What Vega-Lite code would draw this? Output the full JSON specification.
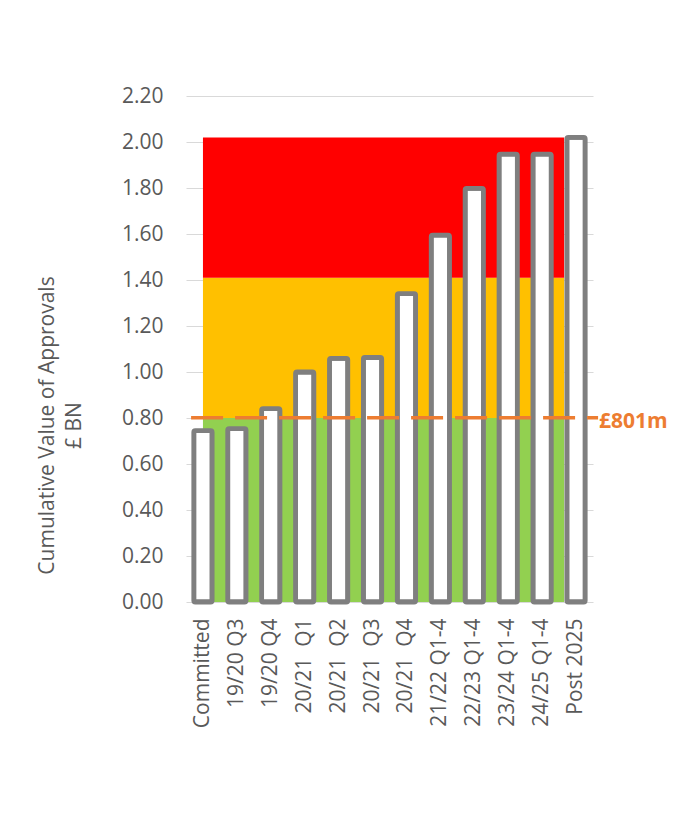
{
  "$schema": "https://vega.github.io/schema/vega-lite/v6.json",
  "width": 407,
  "height": 506,
  "autosize": {"type": "none"},
  "padding": {"left": 186, "top": 96, "right": 84, "bottom": 212},
  "background": "white",
  "config": {"view": {"stroke": null}, "font": "Open Sans"},
  "datasets": {
    "bars": [
      {"period": "Committed", "value": 0.745},
      {"period": "19/20 Q3", "value": 0.754},
      {"period": "19/20 Q4", "value": 0.841},
      {"period": "20/21\u00a0 Q1", "value": 1.0},
      {"period": "20/21\u00a0 Q2", "value": 1.059},
      {"period": "20/21\u00a0 Q3", "value": 1.063},
      {"period": "20/21\u00a0 Q4", "value": 1.341},
      {"period": "21/22 Q1-4", "value": 1.595},
      {"period": "22/23 Q1-4", "value": 1.798},
      {"period": "23/24 Q1-4", "value": 1.947},
      {"period": "24/25 Q1-4", "value": 1.947},
      {"period": "Post 2025", "value": 2.02}
    ],
    "bands": [
      {"zone": "green", "x0": 0.5, "x1": 11.15, "y0": 0, "y1": 0.8},
      {"zone": "amber", "x0": 0.5, "x1": 11.15, "y0": 0.8, "y1": 1.41},
      {"zone": "red", "x0": 0.5, "x1": 11.15, "y0": 1.41, "y1": 2.02}
    ],
    "threshold": [
      {"x0": 0.15, "x1": 12.15, "value": 0.801, "label": "£801m"}
    ]
  },
  "layer": [
    {
      "data": {"name": "bands"},
      "mark": {"type": "rect"},
      "encoding": {
        "x": {"field": "x0", "type": "quantitative", "scale": {"domain": [0, 12], "nice": false, "zero": false}, "axis": null},
        "x2": {"field": "x1"},
        "y": {
          "field": "y0",
          "type": "quantitative",
          "scale": {"domain": [0, 2.2], "nice": false},
          "axis": {
            "title": ["Cumulative Value of Approvals", "£ BN"],
            "values": [0, 0.2, 0.4, 0.6, 0.8, 1.0, 1.2, 1.4, 1.6, 1.8, 2.0, 2.2],
            "format": ".2f",
            "labelFontSize": 21,
            "labelColor": "#595959",
            "labelPadding": 23,
            "ticks": false,
            "domain": false,
            "gridColor": "#D9D9D9",
            "gridWidth": 1,
            "titleFontSize": 21,
            "titleFontWeight": "normal",
            "titleColor": "#595959",
            "titleAngle": 270,
            "titleX": -138.5,
            "titleY": 329,
            "titleAlign": "center",
            "titleBaseline": "middle",
            "titleLineHeight": 27
          }
        },
        "y2": {"field": "y1"},
        "color": {
          "field": "zone",
          "type": "nominal",
          "scale": {"domain": ["green", "amber", "red"], "range": ["#92D050", "#FFC000", "#FF0000"]},
          "legend": null
        }
      }
    },
    {
      "data": {"name": "bars"},
      "mark": {"type": "bar", "fill": "white", "stroke": "#7F7F7F", "strokeWidth": 4.8, "strokeJoin": "round", "cornerRadius": 1.5},
      "encoding": {
        "x": {
          "field": "period",
          "type": "nominal",
          "sort": null,
          "scale": {"paddingInner": 0.46, "paddingOuter": 0.23},
          "axis": {
            "title": null,
            "labelAngle": 270,
            "labelAlign": "right",
            "labelBaseline": "middle",
            "labelFontSize": 21,
            "labelColor": "#595959",
            "labelPadding": 16,
            "ticks": false,
            "domain": false
          }
        },
        "y": {"field": "value", "type": "quantitative"}
      }
    },
    {
      "data": {"name": "threshold"},
      "mark": {"type": "rule", "color": "#ED7D31", "strokeWidth": 3.5, "strokeDash": [32, 12]},
      "encoding": {
        "x": {"field": "x0", "type": "quantitative", "scale": {"domain": [0, 12], "nice": false, "zero": false}, "axis": null},
        "x2": {"field": "x1"},
        "y": {"field": "value", "type": "quantitative"}
      }
    },
    {
      "data": {"name": "threshold"},
      "mark": {"type": "text", "align": "left", "baseline": "middle", "dx": 1, "dy": 4, "fontSize": 21, "fontWeight": "bold", "color": "#ED7D31"},
      "encoding": {
        "x": {"field": "x1", "type": "quantitative", "scale": {"domain": [0, 12], "nice": false, "zero": false}, "axis": null},
        "y": {"field": "value", "type": "quantitative"},
        "text": {"field": "label"}
      }
    }
  ],
  "resolve": {"scale": {"x": "independent"}}
}
